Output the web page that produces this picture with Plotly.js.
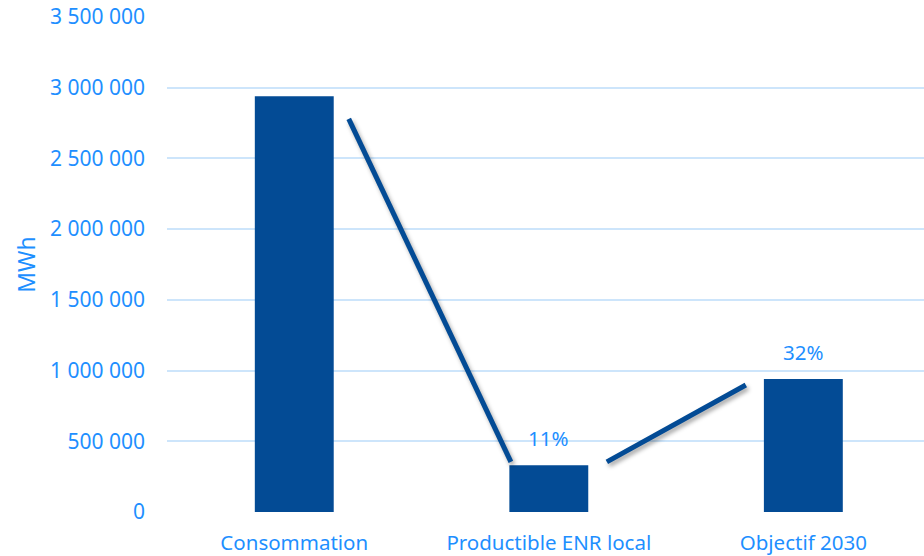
<!DOCTYPE html>
<html>
<head>
<meta charset="utf-8">
<script src="https://cdn.plot.ly/plotly-3.0.1.min.js"></script>
<style>
  html, body { margin: 0; padding: 0; background: #fff; }
  #chart { width: 924px; height: 556px; }
  .scatterlayer .js-line { filter: drop-shadow(2px 3px 2px rgba(0,0,0,0.35)); }
</style>
</head>
<body>
<div id="chart"></div>
<script>
// Energy balance: consumption vs. local renewable potential and 2030 target (MWh)
const categories = ['Consommation', 'Productible ENR local', 'Objectif 2030'];
const valuesMWh = [2940000, 330000, 940000];
const yTicks = [0, 500000, 1000000, 1500000, 2000000, 2500000, 3000000, 3500000];

// Connector segments between bars (category index, MWh)
const link1X = [0.214, 0.851];
const link1Y = [2780000, 354000];
const link2X = [1.228, 1.774];
const link2Y = [354000, 898000];

const blue = '#034B95';
const textBlue = '#1E8FFF';
const font = 'Noto Sans, sans-serif';

const fmt = v => String(v).replace(/\B(?=(\d{3})+(?!\d))/g, ' ');

const bars = {
  type: 'bar',
  x: [0, 1, 2],
  y: valuesMWh,
  width: 0.31,
  marker: { color: blue },
  hoverinfo: 'skip'
};

const segStyle = { color: blue, width: 5 };
const seg1 = { type: 'scatter', mode: 'lines', x: link1X, y: link1Y, line: segStyle, hoverinfo: 'skip' };
const seg2 = { type: 'scatter', mode: 'lines', x: link2X, y: link2Y, line: segStyle, hoverinfo: 'skip' };

// Share of consumption shown above the renewable bars
const shareLabels = [1, 2].map(i => ({
  x: i,
  y: valuesMWh[i],
  xref: 'x', yref: 'y',
  text: Math.round(valuesMWh[i] / valuesMWh[0] * 100) + '%',
  showarrow: false,
  yanchor: 'bottom',
  yshift: 11,
  font: { family: font, size: 20.5, color: textBlue }
}));

const layout = {
  width: 924,
  height: 556,
  margin: { l: 167, r: 0, t: 17, b: 44 },
  paper_bgcolor: '#fff',
  plot_bgcolor: '#fff',
  showlegend: false,
  font: { family: font, color: textBlue },
  xaxis: {
    range: [-0.5, 2.474],
    tickvals: [0, 1, 2],
    ticktext: categories,
    showgrid: false,
    zeroline: false,
    showline: false,
    ticks: '',
    ticklabelstandoff: 16,
    tickfont: { family: font, size: 20.5, color: textBlue }
  },
  yaxis: {
    range: [0, 3500000],
    tickvals: yTicks,
    ticktext: yTicks.map(fmt),
    showgrid: true,
    gridcolor: '#CDE5FB',
    gridwidth: 2,
    zeroline: false,
    showline: false,
    ticks: '',
    ticklabelstandoff: 21,
    tickfont: { family: font, size: 21, color: textBlue },
    title: { text: 'MWh', font: { family: font, size: 23, color: textBlue }, standoff: 7 }
  },
  annotations: shareLabels
};

Plotly.newPlot('chart', [bars, seg1, seg2], layout, { displayModeBar: false, staticPlot: true });
</script>
</body>
</html>
